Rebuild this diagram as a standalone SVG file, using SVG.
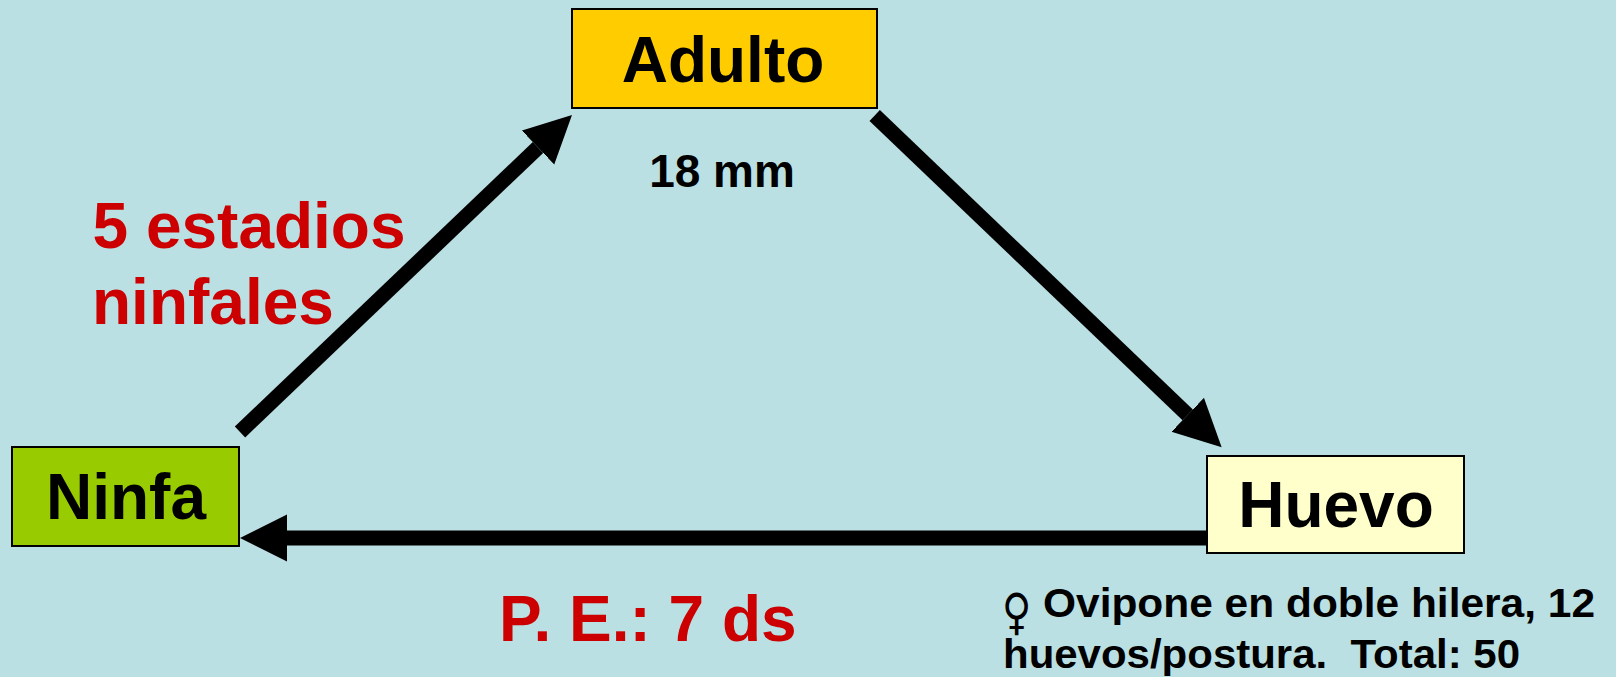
<svg xmlns="http://www.w3.org/2000/svg" width="1616" height="677" viewBox="0 0 1616 677">
  <defs>
    <style>
      .box { stroke: #000000; stroke-width: 2; }
      .lbl { font-family: "Liberation Sans", Arial, sans-serif; font-weight: bold; fill: #000000; }
      .big { font-size: 64px; text-anchor: middle; }
      .red { font-family: "Liberation Sans", Arial, sans-serif; font-weight: bold; font-size: 64px; fill: #CC0000; }
      .note { font-family: "Liberation Sans", Arial, sans-serif; font-weight: bold; font-size: 40px; fill: #000000; }
      .conn { stroke: #000000; stroke-width: 15; fill: none; marker-end: url(#arrow); }
    </style>
    <marker id="arrow" markerUnits="userSpaceOnUse" markerWidth="48" markerHeight="48" refX="0" refY="23.5" orient="auto" viewBox="0 0 48 48">
      <path d="M0,0 L47,23.5 L0,47 Z" fill="#000000"/>
    </marker>
  </defs>
  <rect x="0" y="0" width="1616" height="677" fill="#BAE0E3"/>

  <g id="connectors">
    <line class="conn" x1="240" y1="432" x2="538" y2="147.5"/>
    <line class="conn" x1="874.7" y1="115.5" x2="1187.7" y2="414.8"/>
    <line class="conn" x1="1207" y1="538" x2="287" y2="538"/>
  </g>

  <g id="adulto">
    <rect class="box" x="572" y="9" width="305" height="99" fill="#FFCC00"/>
    <text class="lbl big" x="723" y="82">Adulto</text>
  </g>
  <g id="size-label">
    <text class="lbl" x="722" y="187" font-size="46" text-anchor="middle">18 mm</text>
  </g>
  <g id="huevo">
    <rect class="box" x="1207" y="456" width="257" height="97" fill="#FFFFCC"/>
    <text class="lbl big" x="1336" y="527">Huevo</text>
  </g>
  <g id="ninfa">
    <rect class="box" x="12" y="447" width="227" height="99" fill="#99CC00"/>
    <text class="lbl big" x="126" y="519">Ninfa</text>
  </g>
  <g id="estadios-label">
    <text class="red" x="92.5" y="248">5 estadios</text>
    <text class="red" x="92" y="324">ninfales</text>
  </g>
  <g id="pe-label">
    <text class="red" x="499" y="641">P. E.: 7 ds</text>
  </g>
  <g id="oviposition-note">
    <text transform="translate(1002,629) scale(1,1.25)" x="0" y="0" font-family="DejaVu Sans, sans-serif" font-size="40" fill="#000000">♀</text>
    <text class="note" x="1043" y="617" textLength="552" lengthAdjust="spacingAndGlyphs">Ovipone en doble hilera, 12</text>
    <text class="note" x="1003" y="668" xml:space="preserve" textLength="517" lengthAdjust="spacingAndGlyphs">huevos/postura.  Total: 50</text>
  </g>
</svg>
